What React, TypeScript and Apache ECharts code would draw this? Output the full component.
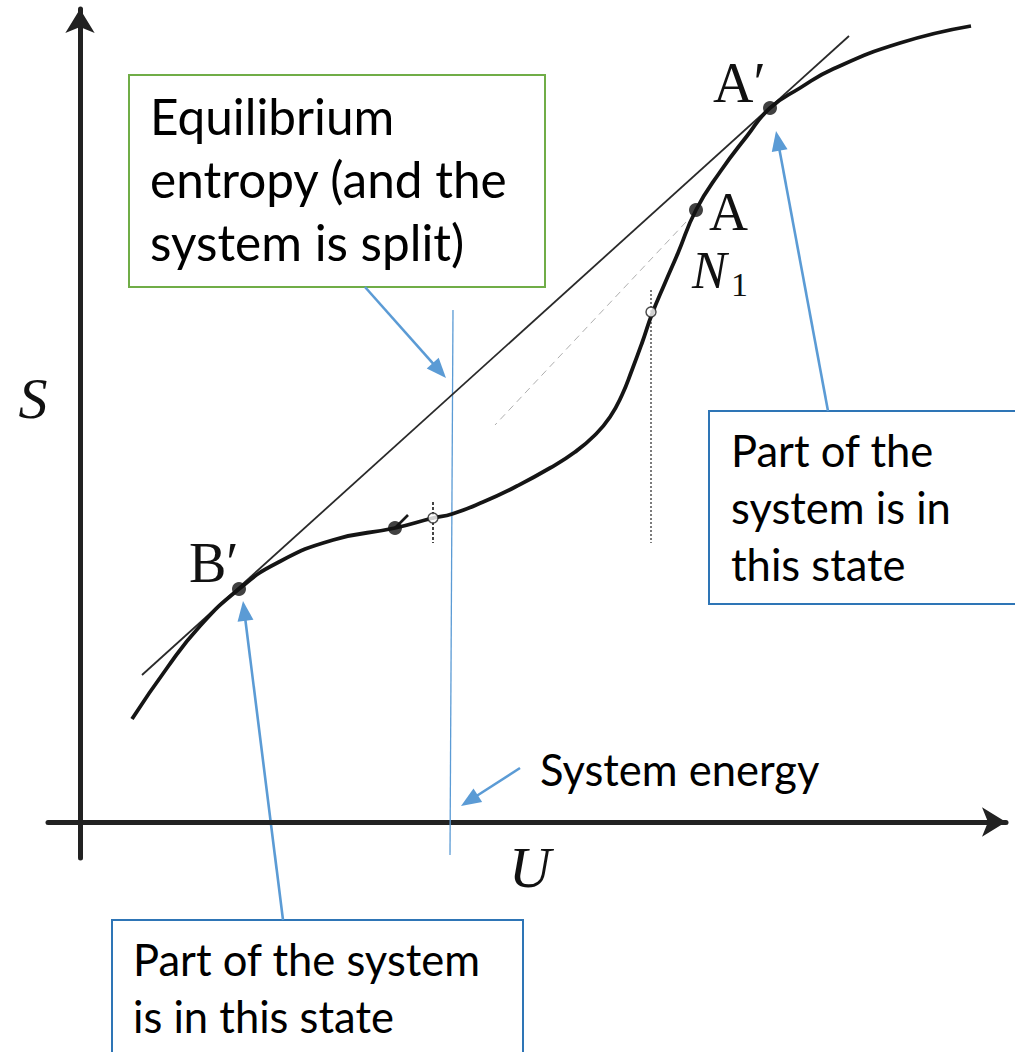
import React, { useEffect, useRef } from "react";
import * as echarts from "echarts";

// S(U) curve (U and S in arbitrary units, 10 px per unit)
const curveU = [5.2, 8.7, 12.0, 15.9, 19.7, 25.3, 31.5, 35.3, 37.2, 40.3, 43.7, 47.0, 49.5, 51.5, 53.0, 54.2, 55.2, 56.2, 57.2, 58.5, 59.8, 61.6, 64.0, 66.7, 69.0, 72.0, 75.3, 82.0, 89.1];
const curveS = [10.3, 15.4, 19.6, 23.3, 25.9, 28.2, 29.4, 30.4, 30.8, 32.0, 33.6, 35.4, 37.0, 38.7, 40.5, 42.7, 45.2, 47.9, 50.8, 53.9, 56.9, 61.2, 65.0, 68.6, 71.4, 73.4, 75.3, 77.9, 79.6];

// common tangent through B' and A'
const tangentU = [6.2, 76.9];
const tangentS = [14.7, 78.6];

// dashed chord from A towards the inflection
const chordU = [60.6, 41.5];
const chordS = [60.0, 39.7];

// system energy (vertical line)
const energyU = [37.3, 37.0];
const energyS = [51.2, -3.3];

// dotted verticals
const dotted1U = [57.1, 57.1];
const dotted1S = [53.2, 27.9];
const dotted2U = [35.3, 35.3];
const dotted2S = [32.0, 27.9];

// small tick on metastable point
const tickU = [31.5, 32.8];
const tickS = [29.4, 30.7];

// filled points: B', metastable, A, A'
const dotNames = ["B'", "M", "A", "A'"];
const dotU = [15.9, 31.5, 61.6, 69.0];
const dotS = [23.3, 29.4, 61.2, 71.4];

// open circles
const ringU = [35.3, 57.1];
const ringS = [30.4, 51.0];

// axis extents
const uMin = -3.2, uMax = 92.6;
const sMin = -3.6, sMax = 81.3;

const greenLines = ["Equilibrium", "entropy (and the", "system is split)"];
const rightLines = ["Part of the", "system is in", "this state"];
const bottomLines = ["Part of the system", "is in this state"];
const energyLabel = "System energy";

const zip = (a: number[], b: number[]) => a.map((v, i) => [v, b[i]]);

function fitSize(text: string, family: string, target: number): number {
  const c = document.createElement("canvas").getContext("2d");
  if (!c) return 40;
  c.font = `100px ${family}`;
  const w = c.measureText(text).width;
  return (100 * target) / w;
}

const BOX_FONT = "Lato";
const MATH_FONT = '"Liberation Serif"';
const ARROW = "#5B9BD5";
const BORDER_BLUE = "#2E75B6";
const GREEN = "#70AD47";

function arrow(from: [number, number], tip: [number, number], len = 20, w = 16) {
  const dx = tip[0] - from[0], dy = tip[1] - from[1];
  const L = Math.hypot(dx, dy);
  const ux = dx / L, uy = dy / L;
  const bx = tip[0] - ux * len, by = tip[1] - uy * len;
  const nx = -uy, ny = ux;
  return [
    {
      type: "line",
      shape: { x1: from[0], y1: from[1], x2: bx + ux * 2, y2: by + uy * 2 },
      style: { stroke: ARROW, lineWidth: 2.6 },
      silent: true,
    },
    {
      type: "polygon",
      shape: { points: [tip, [bx + (nx * w) / 2, by + (ny * w) / 2], [bx - (nx * w) / 2, by - (ny * w) / 2]] },
      style: { fill: ARROW },
      silent: true,
    },
  ];
}

function textLines(lines: string[], x: number, baselines: number[], size: number) {
  return lines.map((t, i) => ({
    type: "text",
    x,
    y: baselines[i] - size * 0.36,
    style: {
      text: t,
      fontFamily: BOX_FONT,
      fontSize: size,
      fill: "#000",
      align: "left",
      verticalAlign: "middle",
    },
    silent: true,
  }));
}

function mathText(t: string, x: number, baseline: number, size: number, italic: boolean, align = "left") {
  return {
    type: "text",
    x,
    y: baseline - size * 0.34,
    style: {
      text: t,
      fontFamily: MATH_FONT,
      fontSize: size,
      fontStyle: italic ? "italic" : "normal",
      fill: "#111",
      align,
      verticalAlign: "middle",
    },
    silent: true,
  };
}

export default function App() {
  const ref = useRef<HTMLDivElement>(null);
  useEffect(() => {
    if (!ref.current) return;
    const chart = echarts.init(ref.current, undefined, { renderer: "svg" });
    const gSize = fitSize(greenLines[1], BOX_FONT, 358);
    const bSize = fitSize(bottomLines[0], BOX_FONT, 348);

    const thinLine = (name: string, data: number[][], style: any, smooth: number | boolean = false) => ({
      name,
      type: "line",
      data,
      smooth,
      showSymbol: false,
      symbol: "none",
      silent: true,
      lineStyle: style,
      z: 3,
    });

    const axisCommon = {
      axisLine: { onZero: true, symbol: ["none", "arrow"], symbolSize: [22, 24], lineStyle: { color: "#222", width: 5 } },
      axisTick: { show: false },
      axisLabel: { show: false },
      splitLine: { show: false },
    };

    chart.setOption({
      animation: false,
      backgroundColor: "#fff",
      grid: { left: 48, right: 9, top: 9, bottom: 194 },
      xAxis: { type: "value", min: uMin, max: uMax, ...axisCommon },
      yAxis: { type: "value", min: sMin, max: sMax, ...axisCommon },
      series: [
        thinLine("energy", zip(energyU, energyS), { color: ARROW, width: 1.3 }),
        thinLine("chord", zip(chordU, chordS), { color: "#9a9a9a", width: 1, type: [7, 5], opacity: 0.8 }),
        thinLine("dotted1", zip(dotted1U, dotted1S), { color: "#444", width: 1.4, type: [2, 2] }),
        thinLine("dotted2", zip(dotted2U, dotted2S), { color: "#444", width: 2, type: [3, 2] }),
        thinLine("tangent", zip(tangentU, tangentS), { color: "#2a2a2a", width: 1.8 }),
        thinLine("curve", zip(curveU, curveS), { color: "#151515", width: 3.8 }, 0.5),
        thinLine("tick", zip(tickU, tickS), { color: "#1a1a1a", width: 2.6 }),
        {
          name: "points",
          type: "scatter",
          silent: true,
          symbol: "circle",
          symbolSize: 14,
          itemStyle: { color: "#111" },
          data: dotNames.map((n, i) => ({ name: n, value: [dotU[i], dotS[i]] })),
          z: 5,
        },
        {
          name: "rings",
          type: "scatter",
          silent: true,
          symbol: "circle",
          symbolSize: 10,
          itemStyle: { color: "#fff", borderColor: "#222", borderWidth: 1.5 },
          data: zip(ringU, ringS),
          z: 5,
        },
      ],
      graphic: [
        { type: "rect", shape: { x: 129, y: 75, width: 416, height: 212 }, style: { fill: "#fff", stroke: GREEN, lineWidth: 2 }, silent: true },
        { type: "rect", shape: { x: 709, y: 411, width: 330, height: 193 }, style: { fill: "#fff", stroke: BORDER_BLUE, lineWidth: 2 }, silent: true },
        { type: "rect", shape: { x: 112, y: 920, width: 411, height: 160 }, style: { fill: "#fff", stroke: BORDER_BLUE, lineWidth: 2 }, silent: true },
        ...textLines(greenLines, 150, [134, 197, 260], gSize),
        ...textLines(rightLines, 731, [466, 523, 580], bSize),
        ...textLines(bottomLines, 133, [975, 1032], bSize),
        ...textLines([energyLabel], 540, [785], bSize),
        ...arrow([365, 287], [446, 378]),
        ...arrow([828, 411], [776, 131]),
        ...arrow([283, 920], [243, 601]),
        ...arrow([520, 768], [461, 806]),
        mathText("S", 33, 418, 58, true, "center"),
        mathText("U", 530, 887, 58, true, "center"),
        mathText("A′", 713, 102, 56, false),
        mathText("A", 709, 230, 54, false),
        mathText("N", 692, 288, 52, true),
        mathText("1", 731, 296, 34, false),
        mathText("B′", 189, 582, 56, false),
      ],
    });
    return () => chart.dispose();
  }, []);
  return <div ref={ref} style={{ position: "absolute", left: 0, top: 0, width: 1015, height: 1052 }} />;
}
